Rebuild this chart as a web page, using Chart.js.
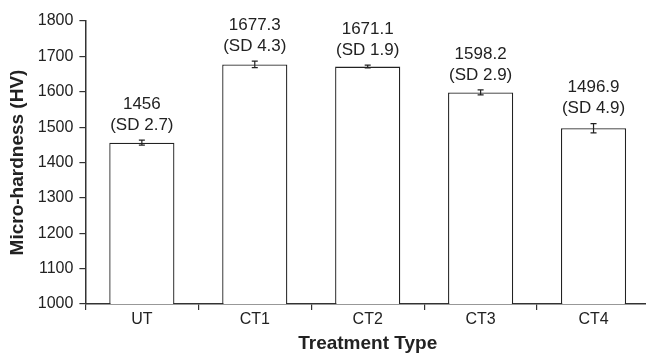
<!DOCTYPE html>
<html>
<head>
<meta charset="utf-8">
<script src="https://cdn.jsdelivr.net/npm/chart.js@4/dist/chart.umd.min.js"></script>
<style>
  html, body { margin: 0; padding: 0; background: #fff; overflow: hidden; }
  #wrap { width: 650px; height: 355px; }
</style>
</head>
<body>
<div id="wrap"><canvas id="hardnessChart"></canvas></div>
<script>
const treatments = ["UT", "CT1", "CT2", "CT3", "CT4"];
const hardness = [1456, 1677.3, 1671.1, 1598.2, 1496.9];
const sdLabels = ["2.7", "4.3", "1.9", "2.9", "4.9"];
const valueLabels = ["1456", "1677.3", "1671.1", "1598.2", "1496.9"];
// error bar half-heights as drawn in the figure
const errorBars = [7, 9, 4, 7, 13];

const axisColor = "#333";
const font = "Liberation Sans, Arial, sans-serif";

const errorAndLabels = {
  id: "errorAndLabels",
  afterDatasetsDraw(chart) {
    const ctx = chart.ctx;
    const y = chart.scales.y;
    const meta = chart.getDatasetMeta(0);
    ctx.save();
    meta.data.forEach((bar, i) => {
      const x = bar.x;
      const top = y.getPixelForValue(hardness[i] + errorBars[i]);
      const bottom = y.getPixelForValue(hardness[i] - errorBars[i]);
      ctx.strokeStyle = "#222";
      ctx.lineWidth = 1.2;
      ctx.beginPath();
      ctx.moveTo(x, top); ctx.lineTo(x, bottom);
      ctx.moveTo(x - 3, top); ctx.lineTo(x + 3, top);
      ctx.moveTo(x - 3, bottom); ctx.lineTo(x + 3, bottom);
      ctx.stroke();

      ctx.fillStyle = "#222";
      ctx.font = "17px " + font;
      ctx.textAlign = "center";
      ctx.textBaseline = "middle";
      ctx.fillText(valueLabels[i], x, top - 36);
      ctx.fillText("(SD " + sdLabels[i] + ")", x, top - 15);
    });
    ctx.restore();
  }
};

new Chart(document.getElementById("hardnessChart"), {
  type: "bar",
  data: {
    labels: treatments,
    datasets: [{
      data: hardness,
      backgroundColor: "#fff",
      borderColor: "#222",
      borderWidth: 1.3,
      borderSkipped: "bottom",
      categoryPercentage: 1,
      barPercentage: 0.577
    }]
  },
  options: {
    responsive: true,
    maintainAspectRatio: false,
    animation: false,
    layout: { padding: { left: 4, top: 21, right: 0, bottom: 0 } },
    plugins: { legend: { display: false }, tooltip: { enabled: false } },
    scales: {
      x: {
        grid: { drawOnChartArea: false, drawTicks: true, tickLength: 6, color: axisColor, lineWidth: 1.2 },
        border: { color: axisColor, width: 1.5 },
        ticks: { color: "#222", font: { family: font, size: 16 }, padding: 0 },
        title: { display: true, text: "Treatment Type", color: "#222",
                 font: { family: font, size: 19, weight: "bold" }, padding: { top: 3, bottom: 0 } }
      },
      y: {
        min: 1000,
        max: 1800,
        grid: { drawOnChartArea: false, drawTicks: true, tickLength: 6, color: axisColor, lineWidth: 1.2 },
        border: { color: axisColor, width: 1.5 },
        ticks: { stepSize: 100, color: "#222", font: { family: font, size: 16 }, padding: 6,
                 callback: v => String(v) },
        title: { display: true, text: "Micro-hardness (HV)", color: "#222",
                 font: { family: font, size: 19, weight: "bold" }, padding: { top: 2, bottom: 3 } }
      }
    }
  },
  plugins: [errorAndLabels]
});
</script>
</body>
</html>
